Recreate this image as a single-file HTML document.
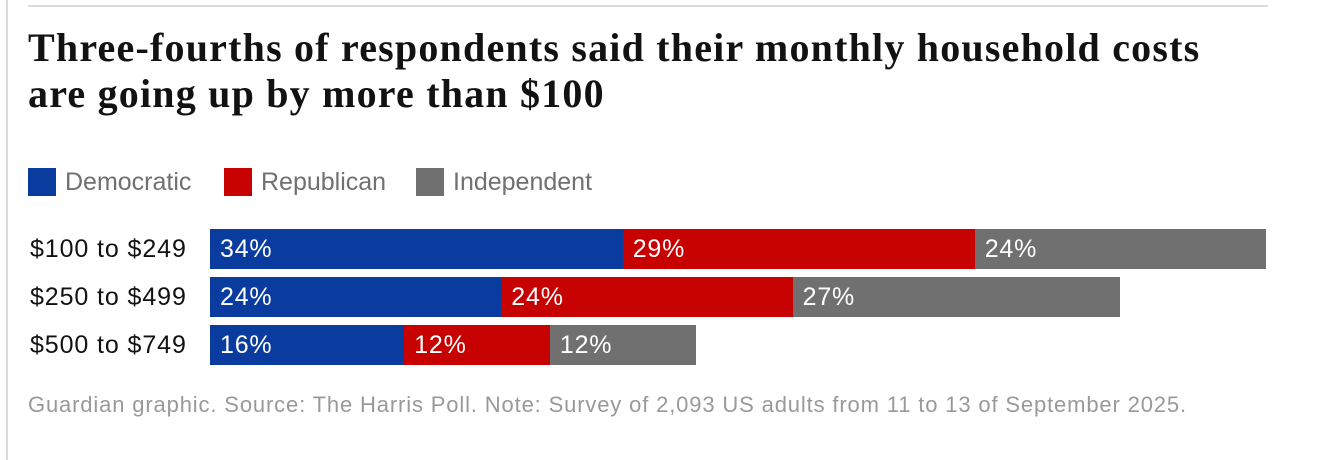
<!DOCTYPE html>
<html><head><meta charset="utf-8"><style>
body{margin:0;width:1320px;height:460px;background:#fff;position:relative;overflow:hidden;font-family:"Liberation Sans",sans-serif}
#lb{position:absolute;left:6px;top:0;width:2px;height:460px;background:#dcdcdc}
#tr{position:absolute;left:28px;top:5px;width:1240px;height:2px;background:#dcdcdc}
h1{position:absolute;left:28px;top:25px;margin:0;font:bold 40px/46px "Liberation Serif",serif;color:#121212;letter-spacing:1.2px;width:1215px}
.leg{position:absolute;top:168px;height:28px;font-size:25px;line-height:28px;color:#707070}
.leg i{display:inline-block;width:28px;height:28px;vertical-align:top;margin-right:9px}
.cat{position:absolute;left:30px;font-size:25px;letter-spacing:0.9px;color:#121212;line-height:40px}
.bar{position:absolute;height:40px;color:#fff;font-size:25px;letter-spacing:0.8px;line-height:40px;box-sizing:border-box;padding-left:10px;white-space:nowrap;overflow:hidden}
#foot{position:absolute;left:28px;top:392px;font-size:22px;letter-spacing:0.85px;color:#999;white-space:nowrap}
</style></head><body>
<div id="lb"></div>
<div id="tr"></div>
<h1>Three-fourths of respondents said their monthly household costs are going up by more than $100</h1>
<div class="leg" style="left:28px"><i style="background:#0a3b9e"></i>Democratic</div>
<div class="leg" style="left:224px"><i style="background:#c70000"></i>Republican</div>
<div class="leg" style="left:416px"><i style="background:#707070"></i>Independent</div>
<div id="chart"></div>
<div id="foot">Guardian graphic. Source: The Harris Poll. Note: Survey of 2,093 US adults from 11 to 13 of September 2025.</div>
<script>
const categories=["$100 to $249","$250 to $499","$500 to $749"];
const democratic=[34,24,16];
const republican=[29,24,12];
const independent=[24,27,12];
const seriesNames=["democratic","republican","independent"];
const colors=["#0a3b9e","#c70000","#707070"];
const x0=210, scale=1056/87, y0=229, step=48;
const xs=v=>v*scale;
const chart=document.getElementById('chart');
const series=[democratic,republican,independent];
categories.forEach((c,i)=>{
  const l=document.createElement('div');
  l.className='cat';l.style.top=(y0+i*step)+'px';l.textContent=c;
  
  
  chart.appendChild(l);
  let acc=0;
  series.forEach((s,k)=>{
    const b=document.createElement('div');
    b.className='bar';
    b.style.left=(x0+xs(acc))+'px';b.style.top=(y0+i*step)+'px';
    b.style.width=xs(s[i])+'px';b.style.background=colors[k];
    b.textContent=s[i]+'%';
    
    
    chart.appendChild(b);
    acc+=s[i];
  });
});
</script>
</body></html>
